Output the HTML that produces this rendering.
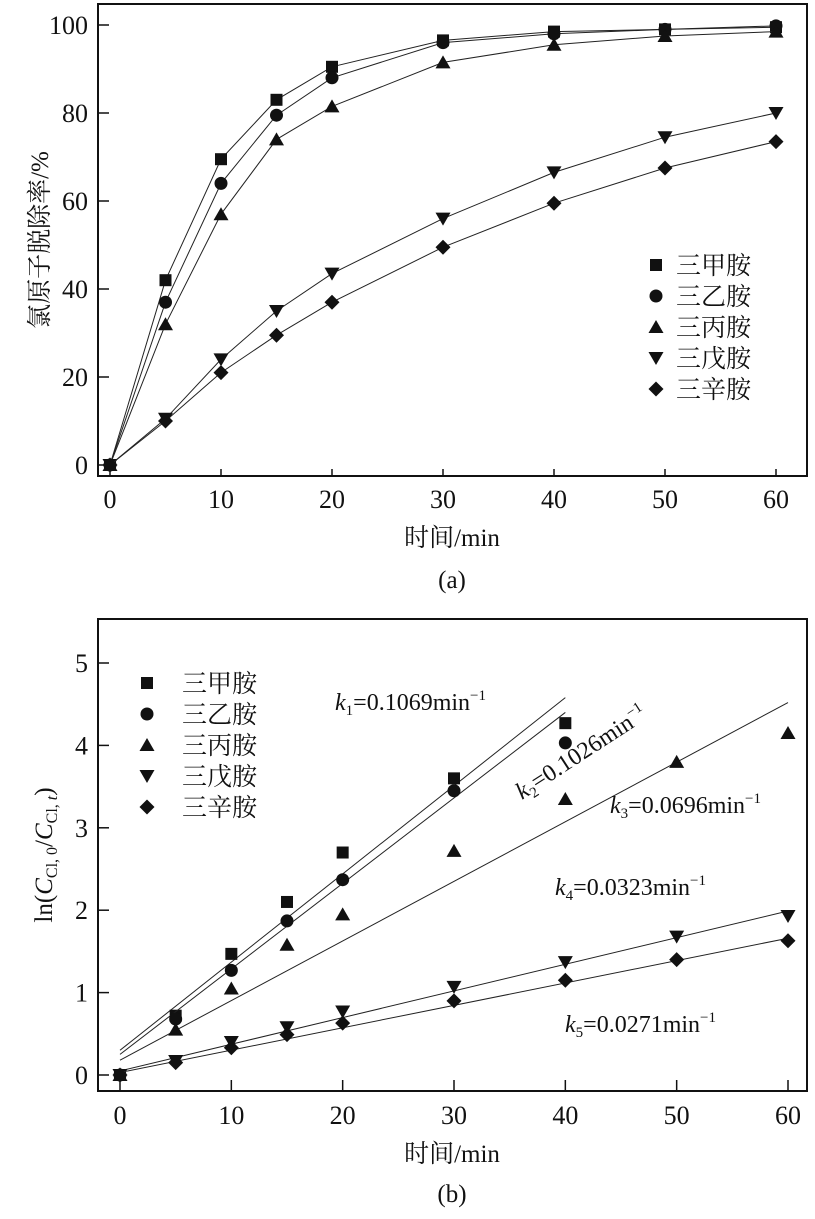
<!DOCTYPE html>
<html><head><meta charset="utf-8"><style>
body{margin:0;background:#fff}
svg text{font-family:"Liberation Serif","Noto Serif CJK SC",serif;fill:#111}
</style></head><body>
<svg id="c" width="815" height="1214" xmlns="http://www.w3.org/2000/svg"></svg>
<script>
const times=[0,5,10,15,20,30,40,50,60];
const names=["三甲胺","三乙胺","三丙胺","三戊胺","三辛胺"];
const markers=["square","circle","tri","tridown","diamond"];
const removal1=[0,42,69.5,83,90.5,96.5,98.5,99,99.5];
const removal2=[0,37,64,79.5,88,96,98,99,99.8];
const removal3=[0,32,57,74,81.5,91.5,95.5,97.5,98.5];
const removal4=[0,10.5,24,35,43.5,56,66.5,74.5,80];
const removal5=[0,10,21,29.5,37,49.5,59.5,67.5,73.5];
const ln1=[0,0.72,1.47,2.1,2.7,3.6,4.27];
const ln2=[0,0.68,1.27,1.87,2.37,3.45,4.03];
const ln3=[0,0.55,1.05,1.58,1.95,2.72,3.35,3.8,4.15];
const ln4=[0,0.17,0.4,0.58,0.77,1.07,1.37,1.68,1.93];
const ln5=[0,0.15,0.33,0.49,0.63,0.9,1.15,1.4,1.63];
const fitX=[[0,40],[0,40],[0,60],[0,60],[0,60]];
const fitY=[[0.3,4.58],[0.25,4.4],[0.18,4.52],[0.05,1.99],[0.03,1.66]];
const xTicks=[0,10,20,30,40,50,60];
const yTicksA=[0,20,40,60,80,100];
const yTicksB=[0,1,2,3,4,5];

const svg=document.getElementById('c');
const NS="http://www.w3.org/2000/svg";
function el(t,a,p){const e=document.createElementNS(NS,t);for(const k in a)e.setAttribute(k,a[k]);(p||svg).appendChild(e);return e;}
function txt(s,x,y,size,anchor,p){const e=el('text',{x:x,y:y,'font-size':size,'text-anchor':anchor||'middle'},p);e.textContent=s;return e;}
function marker(type,x,y,g){
  let e;
  if(type=="square")e=el('rect',{x:x-6,y:y-6,width:12,height:12,fill:'#111'},g);
  else if(type=="circle")e=el('circle',{cx:x,cy:y,r:6.5,fill:'#111'},g);
  else if(type=="tri")e=el('polygon',{points:`${x},${y-7} ${x-7.5},${y+6} ${x+7.5},${y+6}`,fill:'#111'},g);
  else if(type=="tridown")e=el('polygon',{points:`${x},${y+7} ${x-7.5},${y-6} ${x+7.5},${y-6}`,fill:'#111'},g);
  else e=el('polygon',{points:`${x},${y-7.5} ${x+7.5},${y} ${x},${y+7.5} ${x-7.5},${y}`,fill:'#111'},g);
  
  
}
// ---- chart a ----
const A={l:98,t:4,r:807,b:476};
const ax=v=>110+v*(776-110)/60, ay=v=>465-v*(465-25)/100;
const ga=el('g',{});
let f=el('rect',{x:A.l,y:A.t,width:A.r-A.l,height:A.b-A.t,fill:'none',stroke:'#111','stroke-width':2},ga);

xTicks.forEach(v=>{el('line',{x1:ax(v),x2:ax(v),y1:A.b,y2:A.b-7,stroke:'#111','stroke-width':1.5},ga);txt(v,ax(v),508,26,'middle',ga);});
yTicksA.forEach(v=>{el('line',{x1:A.l,x2:A.l+11,y1:ay(v),y2:ay(v),stroke:'#111','stroke-width':1.5},ga);txt(v,88,ay(v)+9,26,'end',ga);});
let t=txt('时间/min',452,546,25,'middle',ga);
t=txt('(a)',452,588,25,'middle',ga);
t=txt('氯原子脱除率/%',0,0,25,'middle',ga);t.setAttribute('transform','translate(48,240) rotate(-90)');
[removal1,removal2,removal3,removal4,removal5].forEach((s,i)=>{
  const g=el('g',{},ga);
  el('polyline',{points:s.map((v,j)=>ax(times[j])+','+ay(v)).join(' '),fill:'none',stroke:'#222','stroke-width':1},g);
  s.forEach((v,j)=>marker(markers[i],ax(times[j]),ay(v),g));
});
names.forEach((n,i)=>{const g=el('g',{},ga);
  marker(markers[i],656,265+i*31,g);txt(n,676,274+i*31,25,'start',g);});
// ---- chart b ----
const B={l:98,t:619,r:807,b:1091};
const bx=v=>120+v*(788-120)/60, by=v=>1075-v*(1075-663)/5;
const gb=el('g',{});
f=el('rect',{x:B.l,y:B.t,width:B.r-B.l,height:B.b-B.t,fill:'none',stroke:'#111','stroke-width':2},gb);

xTicks.forEach(v=>{el('line',{x1:bx(v),x2:bx(v),y1:B.b,y2:B.b-11,stroke:'#111','stroke-width':1.5},gb);txt(v,bx(v),1124,26,'middle',gb);});
yTicksB.forEach(v=>{el('line',{x1:B.l,x2:B.l+11,y1:by(v),y2:by(v),stroke:'#111','stroke-width':1.5},gb);txt(v,88,by(v)+9,26,'end',gb);});
t=txt('时间/min',452,1162,25,'middle',gb);
t=txt('(b)',452,1202,25,'middle',gb);
t=el('text',{'font-size':25,'text-anchor':'middle',transform:'translate(52,855) rotate(-90)'},gb);
t.innerHTML='ln(<tspan font-style="italic">C</tspan><tspan font-size="16" dy="5">Cl, 0</tspan><tspan dy="-5">/</tspan><tspan font-style="italic">C</tspan><tspan font-size="16" dy="5">Cl, <tspan font-style="italic">t</tspan></tspan><tspan dy="-5">)</tspan>';

[ln1,ln2,ln3,ln4,ln5].forEach((s,i)=>{
  const g=el('g',{},gb);
  el('line',{x1:bx(fitX[i][0]),y1:by(fitY[i][0]),x2:bx(fitX[i][1]),y2:by(fitY[i][1]),stroke:'#222','stroke-width':1},g);
  s.forEach((v,j)=>marker(markers[i],bx(times[j]),by(v),g));
});
names.forEach((n,i)=>{const g=el('g',{},gb);
  marker(markers[i],147,683+i*31,g);txt(n,182,692+i*31,25,'start',g);});
function klabel(i,val,x,y,rot){const e=el('text',{x:x,y:y,'font-size':24,'text-anchor':'start'},gb);
  if(rot)e.setAttribute('transform',`rotate(${rot} ${x} ${y})`);
  e.innerHTML=`<tspan font-style="italic">k</tspan><tspan font-size="15" dy="5">${i}</tspan><tspan dy="-5">=${val}min</tspan><tspan font-size="15" dy="-10">−1</tspan>`;
  }
klabel(1,'0.1069',335,710,0);
klabel(2,'0.1026',522,800,-33);
klabel(3,'0.0696',610,813,0);
klabel(4,'0.0323',555,895,0);
klabel(5,'0.0271',565,1032,0);
</script>
</body></html>
